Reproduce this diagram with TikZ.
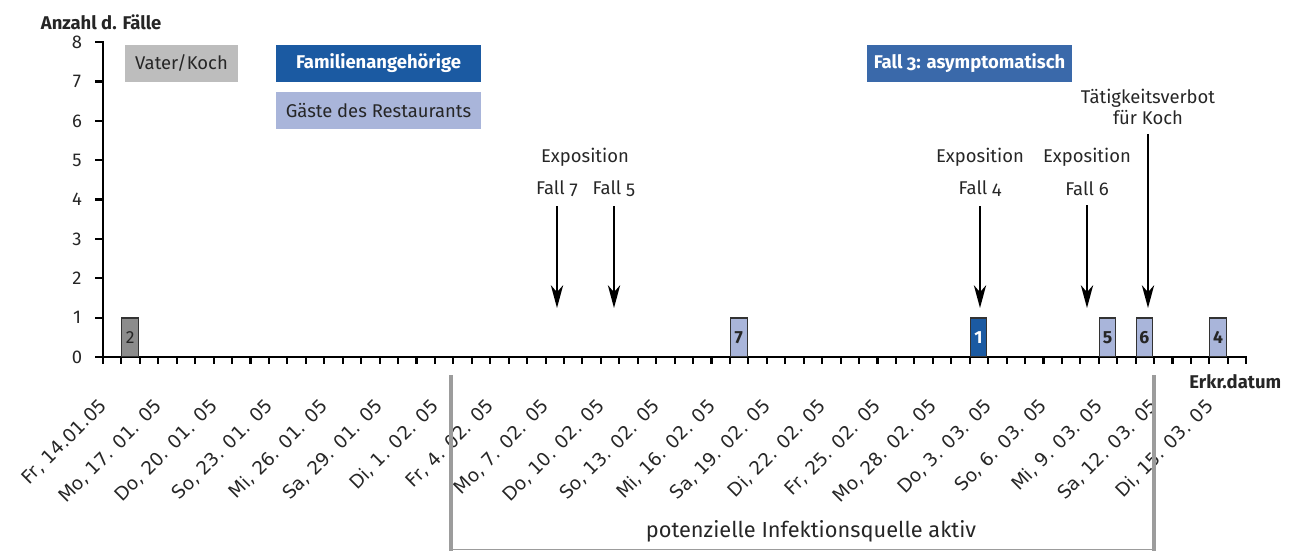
\documentclass[tikz,border=0pt]{standalone}
\usepackage{fontspec}
\setmainfont{Fira Sans}
\newfontfamily\oldnum[Numbers=OldStyle]{Fira Sans}
\newfontfamily\datefont{DejaVu Sans}
\usetikzlibrary{positioning,arrows.meta}
\definecolor{kochgray}{HTML}{BDBDBD}
\definecolor{bargray}{HTML}{8C8C8C}
\definecolor{famblue}{HTML}{1B5AA2}
\definecolor{fallblue}{HTML}{3A69AA}
\definecolor{gastblue}{HTML}{A9B5DA}
\definecolor{quellgray}{HTML}{9C9C9C}
\definecolor{textgray}{HTML}{262626}

\begin{document}
\begin{tikzpicture}[
  x=0.02cm, y=-0.02cm,
  font=\fontsize{10.5}{12}\selectfont, >={Stealth[length=13pt,width=7pt,inset=4pt]},
  every node/.style={inner sep=2pt, text=textgray},
  axis/.style={line width=1.3pt, line cap=rect},
  legend/.style={minimum width=4.1cm, minimum height=0.74cm, inner sep=0pt},
  bar/.style={draw=black!80, line width=0.6pt, minimum width=0.33cm, minimum height=0.77cm,
    anchor=south west, inner sep=0pt, font=\fontsize{10}{12}\selectfont\bfseries},
  expo/.style={->, line width=1.1pt, shorten <=3pt},
  datum/.style={rotate=45, anchor=north east, inner sep=0pt, font=\fontsize{10.5}{12}\selectfont\datefont},
  quelle/.style={draw=quellgray, line width=2.3pt}
]
  \useasboundingbox (0,0) rectangle (1296,551);
  % axes
  \node[font=\fontsize{10.5}{12}\selectfont\bfseries, anchor=west] (ylab) at (37,22) {Anzahl d. Fälle};
  \draw[axis] (103,42) -- (103,357);
  \draw[axis] (96,357) -- (1246,357);
  \foreach \v in {0,...,8} {
    \draw[axis] (96,{357-39.35*\v}) -- (103,{357-39.35*\v});
    \node (y\v) at (77,{357-39.35*\v}) {\v};
  }
  \foreach \k in {0,...,62}
    \draw[line width=1.2pt] ({103+18.44*\k},357) -- ++(0,7);
  \node[font=\fontsize{10.5}{12}\selectfont\bfseries, anchor=east] (xlab) at (1285,382) {Erkr.datum};
  \foreach \d [count=\i from 0] in {{Fr, 14.01.05},{Mo, 17. 01. 05},{Do, 20. 01. 05},{So, 23. 01. 05},
      {Mi, 26. 01. 05},{Sa, 29. 01. 05},{Di, 1. 02. 05},{Fr, 4. 02. 05},{Mo, 7. 02. 05},
      {Do, 10. 02. 05},{So, 13. 02. 05},{Mi, 16. 02. 05},{Sa, 19. 02. 05},{Di, 22. 02. 05},
      {Fr, 25. 02. 05},{Mo, 28. 02. 05},{Do, 3. 03. 05},{So, 6. 03. 05},{Mi, 9. 03. 05},
      {Sa, 12. 03. 05},{Di, 15. 03. 05}}
    \node[datum] (d\i) at ({98+55.32*\i},397) {\d};

  % legend
  \node[legend, fill=kochgray, minimum width=2.26cm] (koch) at (181.5,63.5) {Vater/Koch};
  \node[legend, fill=famblue, text=white, font=\fontsize{10.5}{12}\selectfont\bfseries] (fam) at (378.5,63.5) {Familienangehörige};
  \node[legend, fill=gastblue] (gast) at (378.5,110.5) {Gäste des Restaurants};
  \node[legend, fill=fallblue, text=white, font=\fontsize{10.5}{12}\selectfont\bfseries\oldnum] (fall3) at (969.5,63.5) {Fall 3: asymptomatisch};

  % cases
  \node[bar, fill=bargray, font=\fontsize{10}{12}\selectfont] (b2) at (121.4,357) {2};
  \node[bar, fill=gastblue] (b7) at (730,357) {7};
  \node[bar, fill=famblue, text=white] (b1) at (969.7,357) {1};
  \node[bar, fill=gastblue] (b5) at (1098.8,357) {5};
  \node[bar, fill=gastblue] (b6) at (1135.6,357) {6};
  \node[bar, fill=gastblue] (b4) at (1209.4,357) {4};

  % exposure
  \node (ex75) at (585,157) {Exposition};
  \node[font=\fontsize{10.5}{12}\selectfont\oldnum] (f7) at (557,189) {Fall 7};
  \node[font=\fontsize{10.5}{12}\selectfont\oldnum] (f5) at (614,189) {Fall 5};
  \node (ex4) at (980,157) {Exposition};
  \node[font=\fontsize{10.5}{12}\selectfont\oldnum] (f4) at (980,189) {Fall 4};
  \node (ex6) at (1087,157) {Exposition};
  \node[font=\fontsize{10.5}{12}\selectfont\oldnum] (f6) at (1087,189) {Fall 6};
  \node[align=center] (tv) at (1148,107) {Tätigkeitsverbot\\für Koch};
  \coordinate (t7) at (557,308);
  \coordinate (t5) at (614,308);
  \coordinate (t4) at (980,308);
  \coordinate (t6) at (1087,308);
  \coordinate (ttv) at (1148,308);
  \draw[expo] (f7) -- (t7);
  \draw[expo] (f5) -- (t5);
  \draw[expo] (f4) -- (t4);
  \draw[expo] (f6) -- (t6);
  \draw[expo] (tv) -- (ttv);

  % source active
  \coordinate (qa) at (451,375);
  \coordinate (qb) at (1154,375);
  \draw[quelle] (qa) -- (qa |- 0,551);
  \draw[quelle] (qb) -- (qb |- 0,551);
  \draw[quellgray, line width=0.6pt] (qa |- 0,549.5) -- (qb |- 0,549.5);
  \node[font=\fontsize{12.4}{14}\selectfont] (quelle) at (811,531) {potenzielle Infektionsquelle aktiv};
\end{tikzpicture}
\end{document}
